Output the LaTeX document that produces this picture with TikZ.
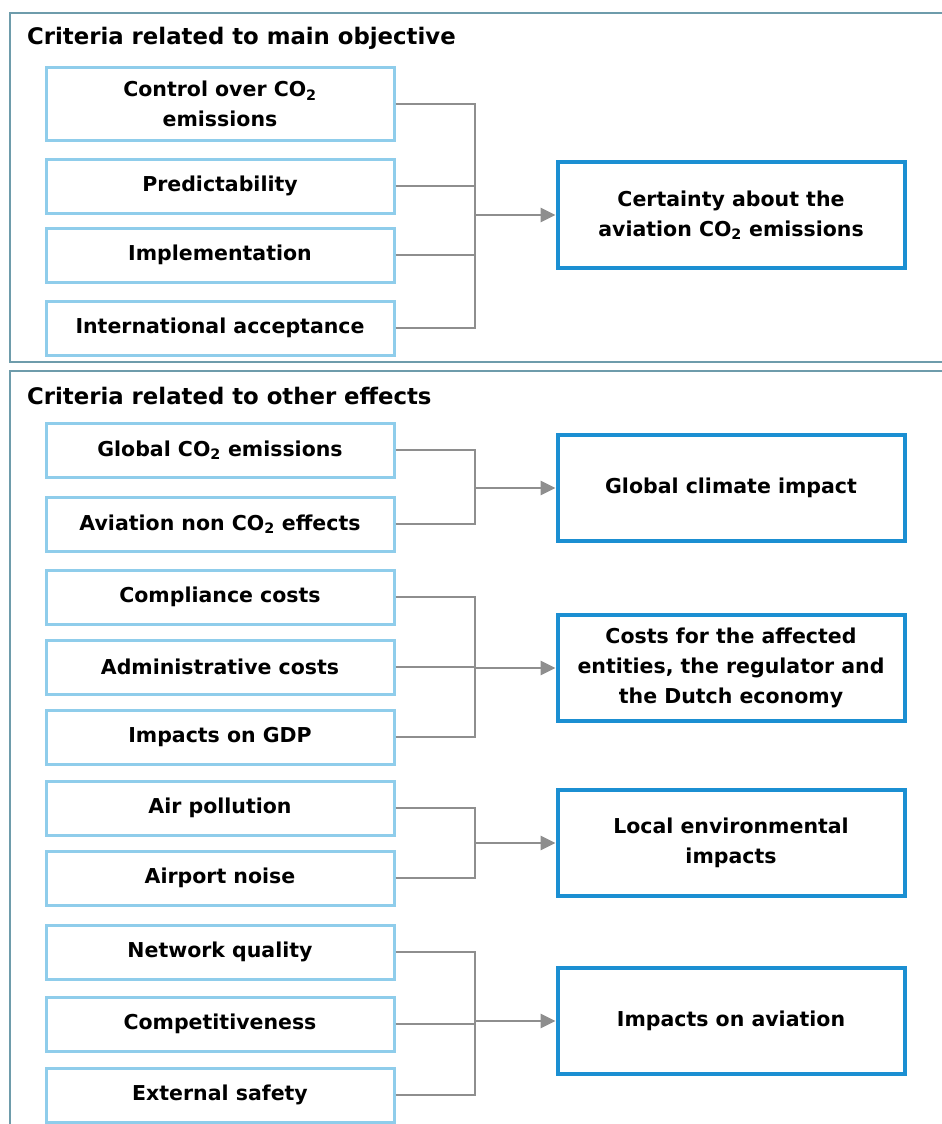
\documentclass[tikz,border=0pt]{standalone}
\usepackage{fontspec}
\setmainfont{DejaVu Sans}
\usepackage{tikz}
\usetikzlibrary{arrows.meta,positioning,calc}
\definecolor{Frame}{HTML}{6E9CAB}
\definecolor{LightBlue}{HTML}{8FCDEB}
\definecolor{Blue}{HTML}{1B8FD2}
\definecolor{Link}{HTML}{8E8E8E}
\newcommand{\cotwo}{CO\textsubscript{2}}
\tikzset{
  crit/.style={draw=LightBlue,line width=3pt,fill=white,minimum width=348pt,minimum height=54pt,
    inner sep=0pt,align=center,font=\fontsize{20.5}{30}\selectfont\bfseries},
  effect/.style={draw=Blue,line width=4pt,fill=white,minimum width=347pt,minimum height=106pt,
    inner sep=0pt,align=center,font=\fontsize{20.5}{30}\selectfont\bfseries},
  link/.style={draw=Link,line width=2.8pt},
  arrowlink/.style={link,-{Triangle[length=15pt,width=14pt]}},
  heading/.style={anchor=west,inner sep=0pt,font=\fontsize{22.8}{28}\selectfont\bfseries}
}
\begin{document}
\begin{tikzpicture}[x=1pt,y=-1pt]
  \useasboundingbox (0,0) rectangle (942,1124);
  % frames
  \draw[Frame,line width=2pt] (10,13) rectangle (950,362);
  \draw[Frame,line width=2pt] (950,371) -- (10,371) -- (10,1130);
  \node[heading] (head1) at (27,38) {Criteria related to main objective};
  \node[heading] (head2) at (27,396) {Criteria related to other effects};
  % main objective
  \node[crit,minimum height=72pt] (ctrl) at (220,104) {Control over \cotwo\\emissions};
  \node[crit] (pred) at (220,186) {Predictability};
  \node[crit] (impl) at (220,255) {Implementation};
  \node[crit] (intl) at (220,328) {International acceptance};
  \node[effect] (cert) at (731,215) {Certainty about the\\aviation \cotwo{} emissions};
  \coordinate (j1) at (475,215);
  \foreach \n in {ctrl,pred,impl,intl}
    \draw[link] (\n.east) -| (j1);
  \draw[arrowlink] (j1) -- (cert.west);
  % other effects
  \node[crit] (glob) at (220,450) {Global \cotwo{} emissions};
  \node[crit] (nonco) at (220,524) {Aviation non \cotwo{} effects};
  \node[effect] (clim) at (731,488) {Global climate impact};
  \coordinate (j2) at (475,488);
  \foreach \n in {glob,nonco}
    \draw[link] (\n.east) -| (j2);
  \draw[arrowlink] (j2) -- (clim.west);
  \node[crit] (comp) at (220,597) {Compliance costs};
  \node[crit] (admin) at (220,667) {Administrative costs};
  \node[crit] (gdp) at (220,737) {Impacts on GDP};
  \node[effect] (costs) at (731,668) {Costs for the affected\\entities, the regulator and\\the Dutch economy};
  \coordinate (j3) at (475,668);
  \foreach \n in {comp,admin,gdp}
    \draw[link] (\n.east) -| (j3);
  \draw[arrowlink] (j3) -- (costs.west);
  \node[crit] (air) at (220,808) {Air pollution};
  \node[crit] (noise) at (220,878) {Airport noise};
  \node[effect] (local) at (731,843) {Local environmental\\impacts};
  \coordinate (j4) at (475,843);
  \foreach \n in {air,noise}
    \draw[link] (\n.east) -| (j4);
  \draw[arrowlink] (j4) -- (local.west);
  \node[crit] (netw) at (220,952) {Network quality};
  \node[crit] (compet) at (220,1024) {Competitiveness};
  \node[crit] (safety) at (220,1095) {External safety};
  \node[effect] (avia) at (731,1021) {Impacts on aviation};
  \coordinate (j5) at (475,1021);
  \foreach \n in {netw,compet,safety}
    \draw[link] (\n.east) -| (j5);
  \draw[arrowlink] (j5) -- (avia.west);
\end{tikzpicture}
\end{document}
